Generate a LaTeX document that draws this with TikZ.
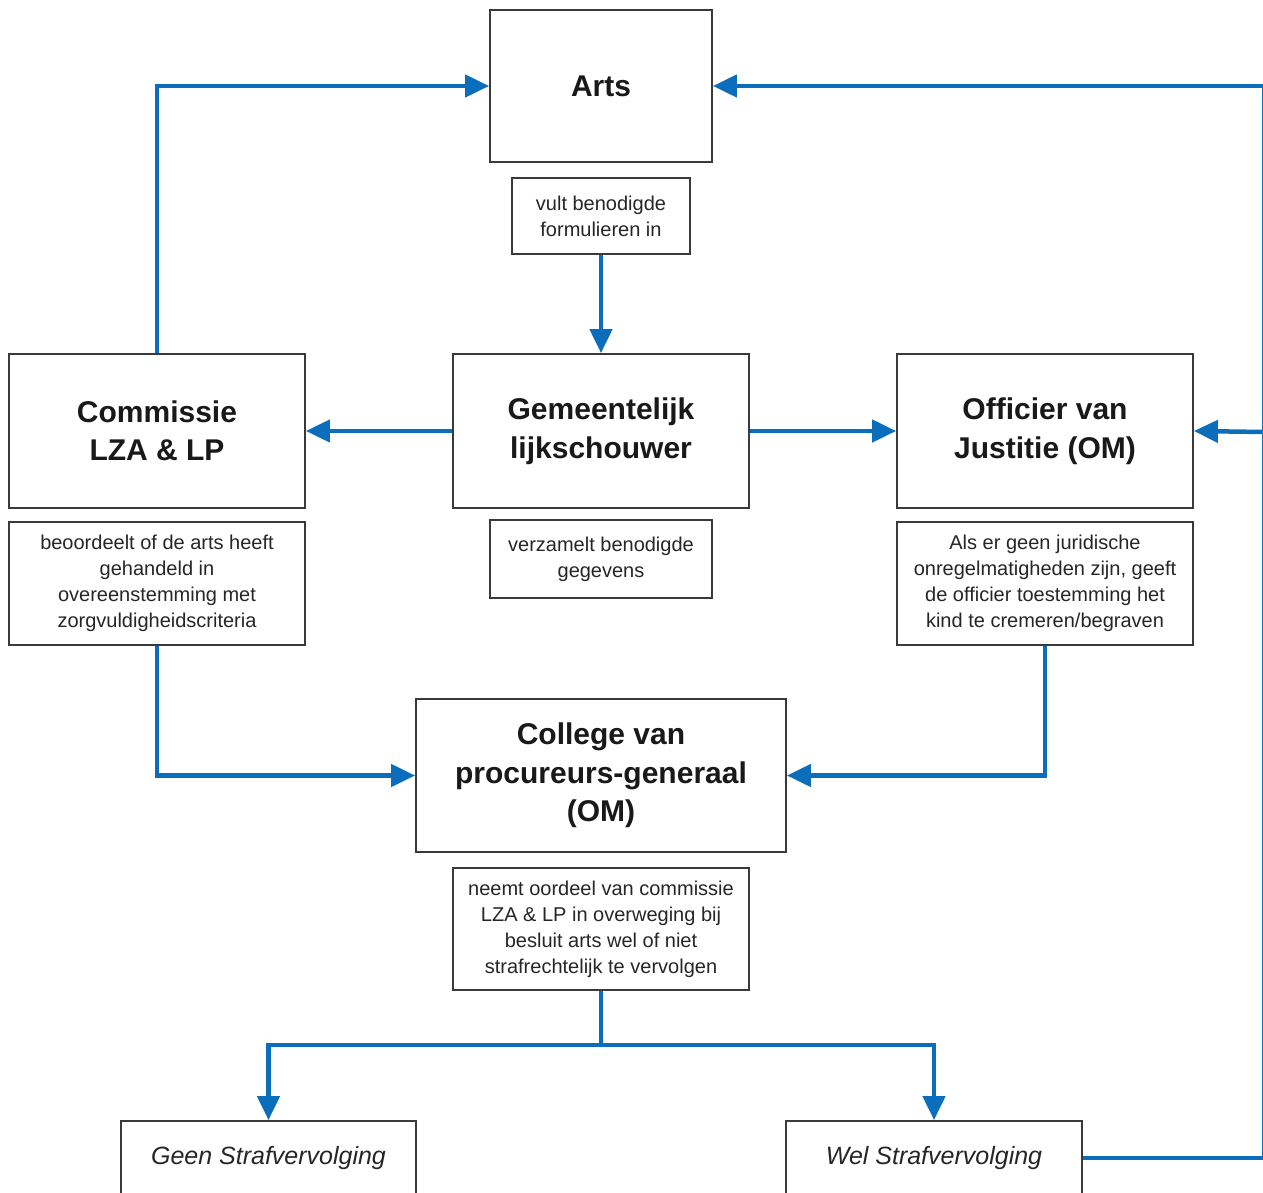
\documentclass[tikz,border=0pt]{standalone}
\usepackage{fontspec}
\setmainfont{Liberation Sans}
\usetikzlibrary{arrows.meta}
\definecolor{flow}{HTML}{0A6EBD}
\definecolor{edge}{HTML}{3A3A3A}
\begin{document}
\begin{tikzpicture}[x=1pt,y=-1pt,
 box/.style={draw=edge,line width=1.8pt,fill=white,inner sep=0pt,align=center,text=black!90},
 big/.style={box,font=\fontsize{30}{38.5}\selectfont\bfseries},
 note/.style={box,font=\fontsize{20}{26}\selectfont,text=black!85},
 leaf/.style={box,font=\fontsize{25}{30}\selectfont\itshape,text=black!85},
 flowline/.style={draw=flow,line width=4.5pt},
 arr/.style={flowline,-{Triangle[length=24pt,width=22pt]}}]
\fill[white] (0,0) rectangle (1263,1193);
\useasboundingbox (0,0) rectangle (1263,1193);

\node[big,minimum width=222pt,minimum height=152pt] (arts) at (601,86) {Arts};
\node[note,minimum width=178pt,minimum height=76pt] (vult) at (601,216) {vult benodigde\\formulieren in};
\node[big,minimum width=296pt,minimum height=154pt] (gem) at (601,431) {Gemeentelijk\\lijkschouwer};
\node[note,minimum width=222pt,minimum height=78pt] (verz) at (601,559) {verzamelt benodigde\\gegevens};
\node[big,minimum width=296pt,minimum height=154pt] (com) at (157,431) {Commissie\\LZA \& LP};
\node[note,minimum width=296pt,minimum height=123pt] (beo) at (157,583.5) {beoordeelt of de arts heeft\\gehandeld in\\overeenstemming met\\zorgvuldigheidscriteria};
\node[big,minimum width=296pt,minimum height=154pt] (off) at (1045,431) {Officier van\\Justitie (OM)};
\node[note,minimum width=296pt,minimum height=123pt] (als) at (1045,583.5) {Als er geen juridische\\onregelmatigheden zijn, geeft\\de officier toestemming het\\kind te cremeren/begraven};
\node[big,minimum width=370pt,minimum height=153pt] (col) at (601,775.5) {College van\\procureurs-generaal\\(OM)};
\node[note,minimum width=296pt,minimum height=122pt] (neemt) at (601,929) {neemt oordeel van commissie\\LZA \& LP in overweging bij\\besluit arts wel of niet\\strafrechtelijk te vervolgen};
\node[leaf,minimum width=295pt,minimum height=74pt] (geen) at (268.5,1158) {Geen Strafvervolging};
\node[leaf,minimum width=296pt,minimum height=74pt] (wel) at (934,1158) {Wel Strafvervolging};

\coordinate (split) at (601,1045);
\coordinate (rt) at (1264,86);
\coordinate (rm) at (1264,432);

\draw[arr] (com.north) |- (arts.west);
\draw[arr] (vult.south) -- (gem.north);
\draw[arr] (gem.west) -- (com.east);
\draw[arr] (gem.east) -- (off.west);
\draw[arr] (beo.south) |- (col.west);
\draw[arr] (als.south) |- (col.east);
\draw[flowline] (neemt.south) -- (split);
\draw[arr] (split) -| (geen.north);
\draw[arr] (split) -| (wel.north);
\draw[arr] (wel.east) -| (rt) -- (arts.east);
\draw[arr] (rm) -- (off.east);
\end{tikzpicture}
\end{document}
